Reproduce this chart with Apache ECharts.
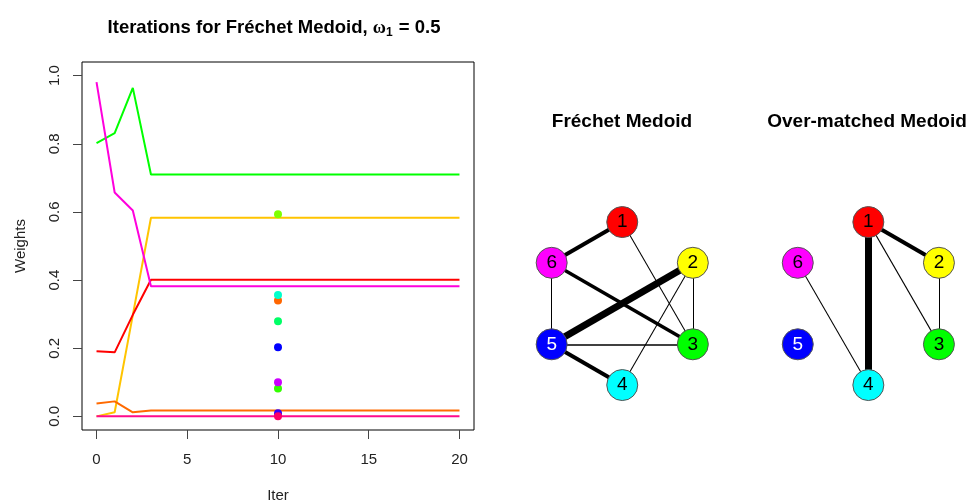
<!DOCTYPE html>
<html>
<head>
<meta charset="utf-8">
<script src="https://cdn.jsdelivr.net/npm/echarts@6/dist/echarts.min.js"></script>
<style>
html,body{margin:0;padding:0;background:#fff;}
#main{width:967px;height:503px;}
</style>
</head>
<body>
<div id="main"></div>
<script>
// ---------- Data ----------
const iter = [0,1,2,3,4,5,6,7,8,9,10,11,12,13,14,15,16,17,18,19,20];
const wGreen   = [0.802,0.831,0.964,0.710,0.710,0.710,0.710,0.710,0.710,0.710,0.710,0.710,0.710,0.710,0.710,0.710,0.710,0.710,0.710,0.710,0.710];
const wMagenta = [0.981,0.657,0.604,0.382,0.382,0.382,0.382,0.382,0.382,0.382,0.382,0.382,0.382,0.382,0.382,0.382,0.382,0.382,0.382,0.382,0.382];
const wGold    = [0.000,0.012,0.297,0.583,0.583,0.583,0.583,0.583,0.583,0.583,0.583,0.583,0.583,0.583,0.583,0.583,0.583,0.583,0.583,0.583,0.583];
const wRed     = [0.191,0.188,0.298,0.401,0.401,0.401,0.401,0.401,0.401,0.401,0.401,0.401,0.401,0.401,0.401,0.401,0.401,0.401,0.401,0.401,0.401];
const wOrange  = [0.038,0.044,0.012,0.017,0.017,0.017,0.017,0.017,0.017,0.017,0.017,0.017,0.017,0.017,0.017,0.017,0.017,0.017,0.017,0.017,0.017];
const wPink    = [0,0,0,0,0,0,0,0,0,0,0,0,0,0,0,0,0,0,0,0,0];

const pointIter   = 10;
const pointValues = [0.340, 0.356, 0.593, 0.279, 0.203, 0.082, 0.100, 0.009, 0.000];
const pointColors = ['#FF6600','#00FFCC','#80FF00','#00FF66','#0000FF','#33FF00','#CC00FF','#3300FF','#FF0066'];

const yTicks = [0, 0.2, 0.4, 0.6, 0.8, 1.0];
const xTicks = [0, 5, 10, 15, 20];

// network (circle layout coordinates)
const nodeNames  = ['1','2','3','4','5','6'];
const nodeX      = [0, 0.866, 0.866, 0, -0.866, -0.866];
const nodeY      = [1, 0.5, -0.5, -1, -0.5, 0.5];
const nodeColors = ['#FF0000','#FFFF00','#00FF00','#00FFFF','#0000FF','#FF00FF'];
const nodeLabelColors = ['#000','#000','#000','#000','#fff','#000'];

// Fréchet Medoid edges (node indices, weights)
const frSource = [0, 0, 5, 5, 1, 1, 1, 4, 4];
const frTarget = [5, 2, 4, 2, 4, 3, 2, 2, 3];
const frWeight = [0.57, 0.15, 0.15, 0.5, 1.0, 0.15, 0.15, 0.22, 0.57];
// Over-matched Medoid edges
const omSource = [0, 0, 0, 1, 5];
const omTarget = [3, 1, 2, 2, 3];
const omWeight = [1.0, 0.57, 0.17, 0.15, 0.15];

// ---------- Build ----------
const FONT = 'Liberation Sans, Arial, sans-serif';
function lineSeries(vals, color) {
  return {
    type: 'line', xAxisIndex: 0, yAxisIndex: 0,
    data: iter.map((x, i) => [x, vals[i]]),
    symbol: 'none', lineStyle: { color: color, width: 2 },
    silent: true, z: 2
  };
}
function graphSeries(idx, src, tgt, wt) {
  return {
    type: 'graph', coordinateSystem: 'cartesian2d', xAxisIndex: idx, yAxisIndex: idx,
    layout: 'none', symbol: 'circle', symbolSize: 31, silent: true,
    data: nodeNames.map((n, i) => ({
      name: n, value: [nodeX[i], nodeY[i]],
      itemStyle: { color: nodeColors[i], borderColor: '#555', borderWidth: 1 },
      label: { show: true, position: 'inside', formatter: n, color: nodeLabelColors[i],
               fontSize: 19, fontFamily: FONT }
    })),
    links: src.map((s, i) => ({
      source: s, target: tgt[i],
      lineStyle: { width: wt[i] * 7, color: '#000', opacity: 1, curveness: 0 }
    })),
    lineStyle: { color: '#000', opacity: 1 },
    emphasis: { disabled: true }
  };
}

const hiddenAxis = (gi) => ({
  type: 'value', gridIndex: gi, min: -1.1, max: 1.1, show: false
});

const option = {
  animation: false,
  backgroundColor: '#fff',
  title: [
    {
      text: '{b|Iterations for Fréchet Medoid, }{w|ω}{s|1}{b| = 0.5}',
      left: 274, top: 17, textAlign: 'center', padding: 0,
      textStyle: {
        rich: {
          b: { fontFamily: FONT, fontWeight: 'bold', fontSize: 18.5, color: '#000', lineHeight: 22 },
          w: { fontFamily: 'Liberation Serif, serif', fontSize: 18, color: '#000', lineHeight: 22 },
          s: { fontFamily: FONT, fontSize: 12, color: '#000', lineHeight: 22, padding: [9, 1, 0, 0] }
        }
      }
    },
    { text: 'Fréchet Medoid', left: 622, top: 112, textAlign: 'center', padding: 0,
      textStyle: { fontFamily: FONT, fontWeight: 'bold', fontSize: 19, color: '#000' } },
    { text: 'Over-matched Medoid', left: 867, top: 112, textAlign: 'center', padding: 0,
      textStyle: { fontFamily: FONT, fontWeight: 'bold', fontSize: 19, color: '#000' } }
  ],
  grid: [
    { left: 82, top: 62, width: 392, height: 368, show: true, borderColor: '#000', borderWidth: 1,
      backgroundColor: 'transparent', outerBoundsMode: 'none', containLabel: false },
    { left: 532.6, top: 213.9, width: 179.3, height: 179.3, outerBoundsMode: 'none' },
    { left: 778.7, top: 213.9, width: 179.3, height: 179.3, outerBoundsMode: 'none' }
  ],
  xAxis: [
    {
      type: 'value', gridIndex: 0, min: -0.8, max: 20.8,
      name: 'Iter', nameLocation: 'middle', nameGap: 58,
      nameTextStyle: { fontFamily: FONT, fontSize: 15, color: '#222' },
      axisLine: { show: false, onZero: false },
      axisTick: { show: true, length: 9, lineStyle: { color: '#444' }, customValues: xTicks },
      axisLabel: { show: true, margin: 22, fontFamily: FONT, fontSize: 15, color: '#222', customValues: xTicks,
                   formatter: v => String(v) },
      splitLine: { show: false }
    },
    hiddenAxis(1), hiddenAxis(2)
  ],
  yAxis: [
    {
      type: 'value', gridIndex: 0, min: -0.04, max: 1.04,
      name: 'Weights', nameLocation: 'middle', nameGap: 54, nameRotate: 90,
      nameTextStyle: { fontFamily: FONT, fontSize: 15, color: '#222' },
      axisLine: { show: false, onZero: false },
      axisTick: { show: true, length: 9, lineStyle: { color: '#444' }, customValues: yTicks },
      axisLabel: { show: true, rotate: 90, margin: 20, fontFamily: FONT, fontSize: 15, color: '#222',
                   customValues: yTicks, formatter: v => v.toFixed(1) },
      splitLine: { show: false }
    },
    hiddenAxis(1), hiddenAxis(2)
  ],
  series: [
    lineSeries(wGreen, '#00FF00'),
    lineSeries(wGold, '#FFC400'),
    lineSeries(wRed, '#FF0000'),
    lineSeries(wMagenta, '#FF00DD'),
    lineSeries(wOrange, '#FF6A00'),
    lineSeries(wPink, '#FF0A8C'),
    {
      type: 'scatter', xAxisIndex: 0, yAxisIndex: 0, symbolSize: 8, silent: true, z: 5,
      data: pointValues.map((v, i) => ({ value: [pointIter, v], itemStyle: { color: pointColors[i], opacity: 1 } }))
    },
    graphSeries(1, frSource, frTarget, frWeight),
    graphSeries(2, omSource, omTarget, omWeight)
  ]
};

const chart = echarts.init(document.getElementById('main'), null, { renderer: 'canvas' });
chart.setOption(option);
</script>
</body>
</html>
